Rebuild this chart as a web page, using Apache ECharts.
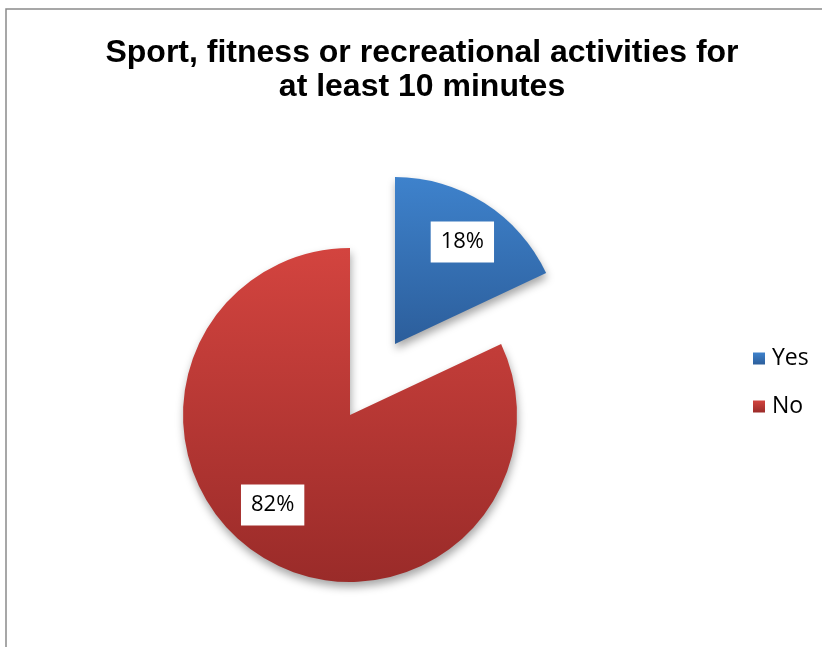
<!DOCTYPE html>
<html>
<head>
<meta charset="utf-8">
<script src="https://cdn.jsdelivr.net/npm/echarts@6/dist/echarts.min.js"></script>
<style>
  html, body { margin: 0; padding: 0; background: #fff; }
  #chart { width: 822px; height: 647px; }
</style>
</head>
<body>
<div id="chart"></div>
<script>
// Share of respondents doing sport, fitness or recreation for 10+ minutes
const categories = ['Yes', 'No'];
const shares = [18, 82];
const titleLines = ['Sport, fitness or recreational activities for', 'at least 10 minutes'];

// Slice fills: vertical gradient, lighter at the top
const sliceGradients = [
  ['#3e82cc', '#2c5e9b'],
  ['#d3443f', '#9a2b29']
];
// Nudge of each value label away from the slice's mid-radius point
const labelNudge = [[21, -29], [-31, 17]];

const chart = echarts.init(document.getElementById('chart'), null, { renderer: 'canvas' });

const grad = (c) => new echarts.graphic.LinearGradient(0, 0, 0, 1, [
  { offset: 0, color: c[0] },
  { offset: 1, color: c[1] }
]);

chart.setOption({
  animation: false,
  backgroundColor: '#ffffff',
  title: {
    text: titleLines.join('\n'),
    // with textAlign 'center', left gives the title's centre line
    left: 417,
    top: 31,
    textAlign: 'center',
    textStyle: {
      fontFamily: 'Liberation Sans, Arial, sans-serif',
      fontWeight: 'bold',
      fontSize: 32,
      lineHeight: 34,
      color: '#000'
    }
  },
  legend: {
    orient: 'vertical',
    left: 748,
    top: 342,
    icon: 'rect',
    itemWidth: 12,
    itemHeight: 12,
    itemGap: 25,
    selectedMode: false,
    data: categories,
    textStyle: {
      fontFamily: 'Open Sans, sans-serif',
      fontSize: 23,
      color: '#000',
      padding: [0, 0, 0, 2]
    }
  },
  graphic: [{
    type: 'rect',
    shape: { x: 6, y: 9, width: 900, height: 800 },
    style: { fill: 'none', stroke: '#8a8a8a', lineWidth: 1.5 },
    silent: true
  }],
  series: [{
    type: 'pie',
    center: [350, 415],
    radius: 167,
    startAngle: 90,
    clockwise: true,
    selectedMode: 'single',
    selectedOffset: 84,
    avoidLabelOverlap: false,
    emphasis: { disabled: true },
    itemStyle: {
      shadowBlur: 8,
      shadowOffsetX: 1,
      shadowOffsetY: 5,
      shadowColor: 'rgba(0,0,0,0.35)'
    },
    label: {
      show: true,
      position: 'inside',
      formatter: (p) => p.value + '%',
      fontFamily: 'Open Sans, sans-serif',
      fontSize: 22,
      color: '#000',
      backgroundColor: '#ffffff',
      padding: [10, 10, 9, 10]
    },
    labelLine: { show: false },
    labelLayout: (p) => ({ dx: labelNudge[p.dataIndex][0], dy: labelNudge[p.dataIndex][1] }),
    data: categories.map((name, i) => ({
      name: name,
      value: shares[i],
      selected: i === 0,
      itemStyle: { color: grad(sliceGradients[i]) }
    }))
  }]
});
</script>
</body>
</html>
